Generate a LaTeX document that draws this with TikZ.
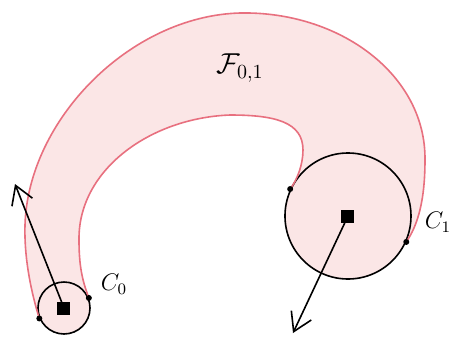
\documentclass[tikz,border=0pt]{standalone}
\usetikzlibrary{arrows.meta, backgrounds}

\begin{document}
\begin{tikzpicture}[x=0.5pt, y=-0.5pt, line width=0.8pt, >={Straight Barb[length=9pt,width=11pt]}]
    % Define colours of the band
    \definecolor{bandFill}{HTML}{FBE6E6}
    \definecolor{bandEdge}{HTML}{E8707F}

    % Fix the picture size
    \useasboundingbox (0,0) rectangle (452,339);

    % Draw the two end circles
    \node[circle, draw, fill=bandFill, minimum size=26pt, inner sep=0pt] (c0) at (64,308) {};
    \node[circle, draw, fill=bandFill, minimum size=63pt, inner sep=0pt] (c1) at (348,216) {};

    % Edges of the band
    \def\outerEdge{(c0.203) .. controls (32,295) and (24,260) .. (25,225)
        .. controls (28,120) and (130,16) .. (240,13)
        .. controls (340,11) and (426,75) .. (425,160)
        .. controls (425,200) and (418,225) .. (c1.-24)}
    \def\innerEdge{(c1.155) .. controls (297,180) and (303,165) .. (303,150)
        .. controls (303,122) and (275,115) .. (230,115)
        .. controls (150,118) and (78,170) .. (79,240)
        .. controls (79,265) and (82,280) .. (c0.22)}

    % Fill the band behind the circles
    \begin{scope}[on background layer]
        \fill[bandFill] \outerEdge -- \innerEdge -- cycle;
    \end{scope}

    % Draw the band edges
    \draw[bandEdge] \outerEdge;
    \draw[bandEdge] \innerEdge;

    % Mark the contact points
    \foreach \p in {c0.22, c0.203, c1.155, c1.-24}
        \fill (\p) circle[radius=3];

    % Centres of the circles
    \node[fill, minimum size=6.5pt, inner sep=0pt] (s0) at (c0) {};
    \node[fill, minimum size=6.5pt, inner sep=0pt] (s1) at (c1) {};

    % Direction arrows
    \coordinate (tip0) at (15,184);
    \coordinate (tip1) at (293,333);
    \draw[->] (s0.center) -- (tip0);
    \draw[->] (s1.center) -- (tip1);

    % Labels
    \node (lblF) at (240,68) {\Large $\mathcal{F}_{0,1}$};
    \node (lbl0) at (114,284) {\large $C_0$};
    \node (lbl1) at (438,222) {\large $C_1$};

\end{tikzpicture}
\end{document}
